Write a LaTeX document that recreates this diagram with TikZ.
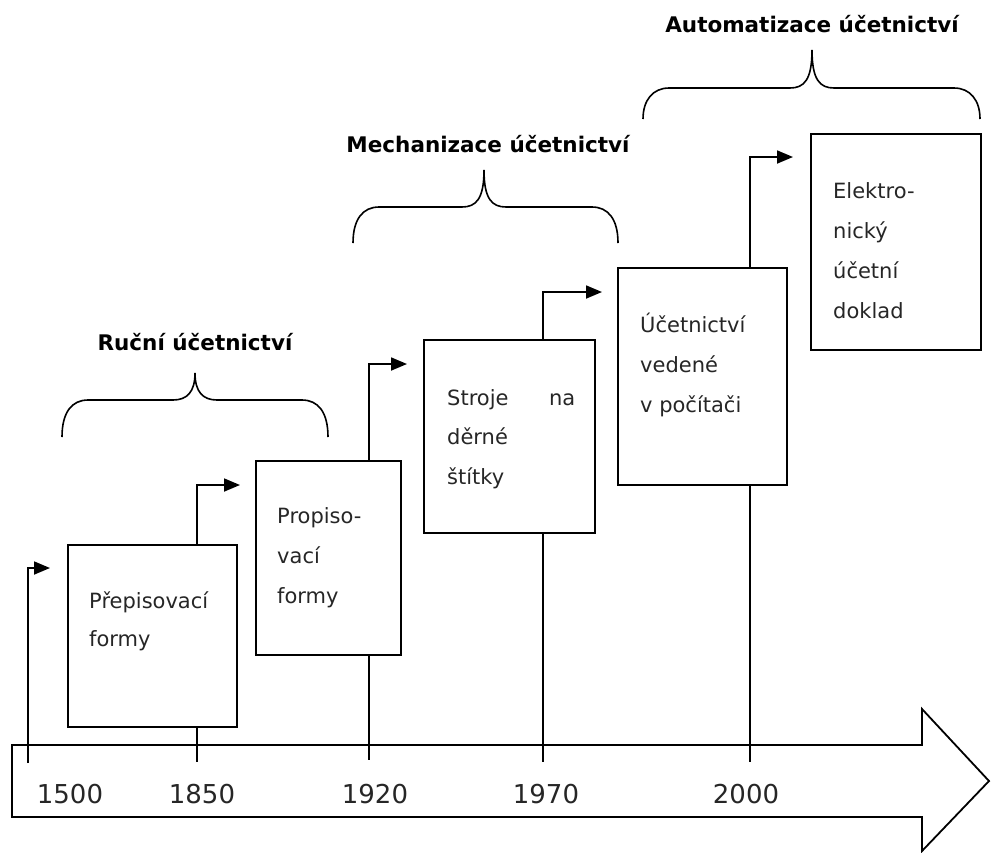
\documentclass[tikz,border=0pt]{standalone}
\usepackage{fontspec}
\setmainfont{DejaVu Sans}
\usetikzlibrary{arrows.meta}
\newcommand\ubrace[6]{%
\draw[brc] (#1,#4) .. controls (#1,{#5+12}) and ({#1+10},#5) .. ({#1+26},#5) -- ({#2-22},#5) .. controls ({#2-8},#5) and (#2,{#5-8}) .. (#2,#6) .. controls (#2,{#5-8}) and ({#2+8},#5) .. ({#2+22},#5) -- ({#3-26},#5) .. controls ({#3-10},#5) and (#3,{#5+12}) .. (#3,#4);}
\begin{document}
\begin{tikzpicture}[x=1pt,y=-1pt,
  box/.style={draw,line width=1.8pt,inner sep=0pt},
  ln/.style={line width=1.8pt},
  arr/.style={line width=1.8pt,-{Triangle[length=16pt,width=13pt]}},
  brc/.style={line width=1.6pt},
  txt/.style={font=\fontsize{21}{25}\selectfont,anchor=base west,inner sep=0pt,text=black!85},
  yr/.style={font=\fontsize{26}{30}\selectfont,anchor=base,inner sep=0pt,text=black!85},
  ttl/.style={font=\fontsize{21.5}{26}\selectfont\bfseries,anchor=base,inner sep=0pt}]
\useasboundingbox (0,0) rectangle (992,852);
% big arrow
\draw[line width=1.8pt,line join=miter] (12,745) -- (922,745) -- (922,709) -- (989,781) -- (922,851) -- (922,817) -- (12,817) -- cycle;
% years
\node[yr] (y1) at (70,803) {1500};
\node[yr] (y2) at (202,803) {1850};
\node[yr] (y3) at (375,803) {1920};
\node[yr] (y4) at (546,803) {1970};
\node[yr] (y5) at (746,803) {2000};
% boxes
\node[box,minimum width=169pt,minimum height=182pt] (b1) at (152.5,636) {};
\node[box,minimum width=145pt,minimum height=194pt] (b2) at (328.5,558) {};
\node[box,minimum width=171pt,minimum height=193pt] (b3) at (509.5,436.5) {};
\node[box,minimum width=169pt,minimum height=217pt] (b4) at (702.5,376.5) {};
\node[box,minimum width=170pt,minimum height=216pt] (b5) at (896,242) {};
% box texts
\node[txt] (t1a) at (89,608) {Přepisovací};
\node[txt] (t1b) at (89,646) {formy};
\node[txt] (t2a) at (277,523) {Propiso-};
\node[txt] (t2b) at (277,563) {vací};
\node[txt] (t2c) at (277,603) {formy};
\node[txt] (t3a) at (447,405) {\hbox to 128pt{Stroje\hfill na}};
\node[txt] (t3b) at (447,444) {děrné};
\node[txt] (t3c) at (447,484) {štítky};
\node[txt] (t4a) at (640,332) {Účetnictví};
\node[txt] (t4b) at (640,372) {vedené};
\node[txt] (t4c) at (640,412) {v počítači};
\node[txt] (t5a) at (833,198) {Elektro-};
\node[txt] (t5b) at (833,238) {nický};
\node[txt] (t5c) at (833,278) {účetní};
\node[txt] (t5d) at (833,318) {doklad};
% tick coordinates and arrow ends
\coordinate (k0) at (28,763);
\coordinate (k1) at (197,762);
\coordinate (k2) at (369,760);
\coordinate (k3) at (543,762);
\coordinate (k4) at (750,762);
\coordinate (e0) at (50,568);
\coordinate (e1) at (240,485);
\coordinate (e2) at (407,364);
\coordinate (e3) at (602,292);
\coordinate (e4) at (793,157);
% ticks
\draw[ln] (b1.south -| k1) -- (k1);
\draw[ln] (b2.south -| k2) -- (k2);
\draw[ln] (b3.south -| k3) -- (k3);
\draw[ln] (b4.south -| k4) -- (k4);
% elbow arrows
\draw[arr] (k0) |- (e0);
\draw[arr] (b1.north -| k1) |- (e1);
\draw[arr] (b2.north -| k2) |- (e2);
\draw[arr] (b3.north -| k3) |- (e3);
\draw[arr] (b4.north -| k4) |- (e4);
% braces and titles
\ubrace{62}{195}{328}{437}{400}{373}
\ubrace{353}{484}{618}{243}{207}{170}
\ubrace{643}{812}{980}{119}{88}{50}
\node[ttl] (h1) at (195,350) {Ruční účetnictví};
\node[ttl] (h2) at (488,152) {Mechanizace účetnictví};
\node[ttl] (h3) at (812,32) {Automatizace účetnictví};
\end{tikzpicture}
\end{document}
